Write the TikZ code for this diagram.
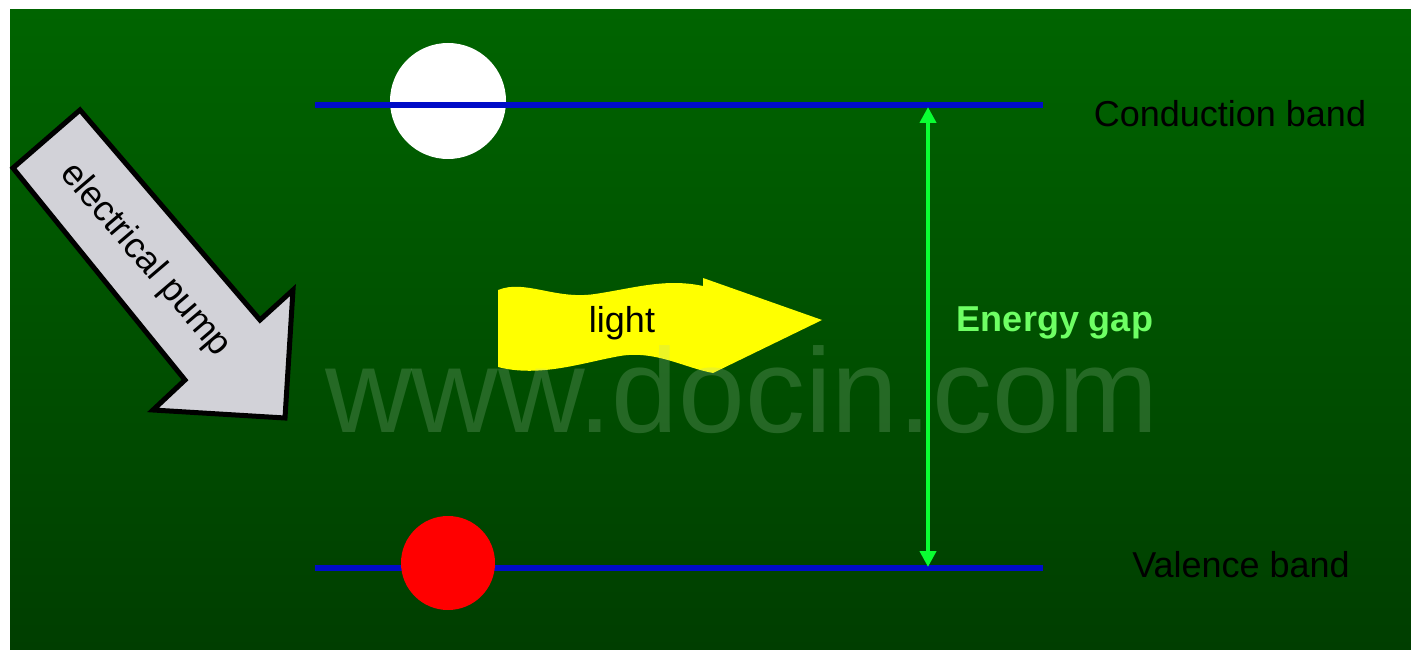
\documentclass[tikz,border=0pt]{standalone}
\usepackage{fontspec}
\setmainfont{Liberation Sans}
\usetikzlibrary{arrows.meta, positioning}

\definecolor{bgtop}{RGB}{0,100,0}
\definecolor{bgmid}{RGB}{6,106,14}
\definecolor{bgbot}{RGB}{0,62,0}
\definecolor{bandblue}{RGB}{0,12,200}
\definecolor{gapgreen}{RGB}{10,255,50}
\definecolor{gaptext}{RGB}{110,255,100}
\definecolor{pumpgray}{RGB}{210,210,216}
\definecolor{lightyellow}{RGB}{255,255,0}
\definecolor{markgray}{RGB}{170,205,170}

\begin{document}
\begin{tikzpicture}[x=1pt, y=-1pt,
    band/.style={draw=bandblue, line width=6pt},
    label/.style={font=\fontsize{36}{43}\selectfont, inner sep=0pt},
    gaparrow/.style={draw=gapgreen, line width=4pt,
        {Triangle[length=16pt,width=16pt]}-{Triangle[length=16pt,width=16pt]}},
    carrier/.style={circle, inner sep=0pt},
]

% Hintergrund
\useasboundingbox (0,0) rectangle (1411,650);
\fill[white] (0,0) rectangle (1411,650);
\shade[top color=bgtop, middle color=bgmid, bottom color=bgbot]
    (10,10) rectangle (1411,650);

% Baender
\coordinate (cb-l) at (315,105);
\coordinate (cb-r) at (1043,105);
\coordinate (vb-l) at (315,568);
\coordinate (vb-r) at (1043,568);
\coordinate (gap-top) at (928,107);
\coordinate (gap-bot) at (928,567);

\node[carrier, fill=white, minimum size=116pt] (hole) at (448,101) {};
\draw[band] (cb-l) -- (cb-r);
\draw[band] (vb-l) -- (vb-r);
\node[carrier, fill=red, minimum size=94pt] (electron) at (448,563) {};

\node[label] (cband) at (1230,114) {Conduction band};
\node[label] (vband) at (1241,565) {Valence band};

% Energieluecke
\draw[gaparrow] (gap-bot) -- (gap-top);
\node[label, font=\fontsize{36}{43}\selectfont\bfseries, text=gaptext]
    (gap) at (1055,323) {Energy gap};

% Pumpe
\draw[fill=pumpgray, line width=5pt, line join=miter]
    (80,110) -- (260,320) -- (293,290) -- (285,418) -- (153,410)
    -- (185,380) -- (13,168) -- cycle;
\node[label, rotate=-49.5] (pump) at (145,260) {electrical pump};

% Licht
\fill[lightyellow] (498,290) .. controls (525,279) and (555,300) .. (595,294)
    .. controls (635,288) and (665,278) .. (703,286) -- (703,278)
    -- (822,320) -- (713,373)
    .. controls (685,368) and (655,350) .. (620,356)
    .. controls (585,362) and (540,378) .. (498,367) -- cycle;
\node[label] (light) at (622,323) {light};

% Wasserzeichen
\node[font=\fontsize{120}{130}\selectfont, text=markgray, text opacity=0.22,
    inner sep=0pt] (mark) at (742,390) {www.docin.com};

\end{tikzpicture}
\end{document}
